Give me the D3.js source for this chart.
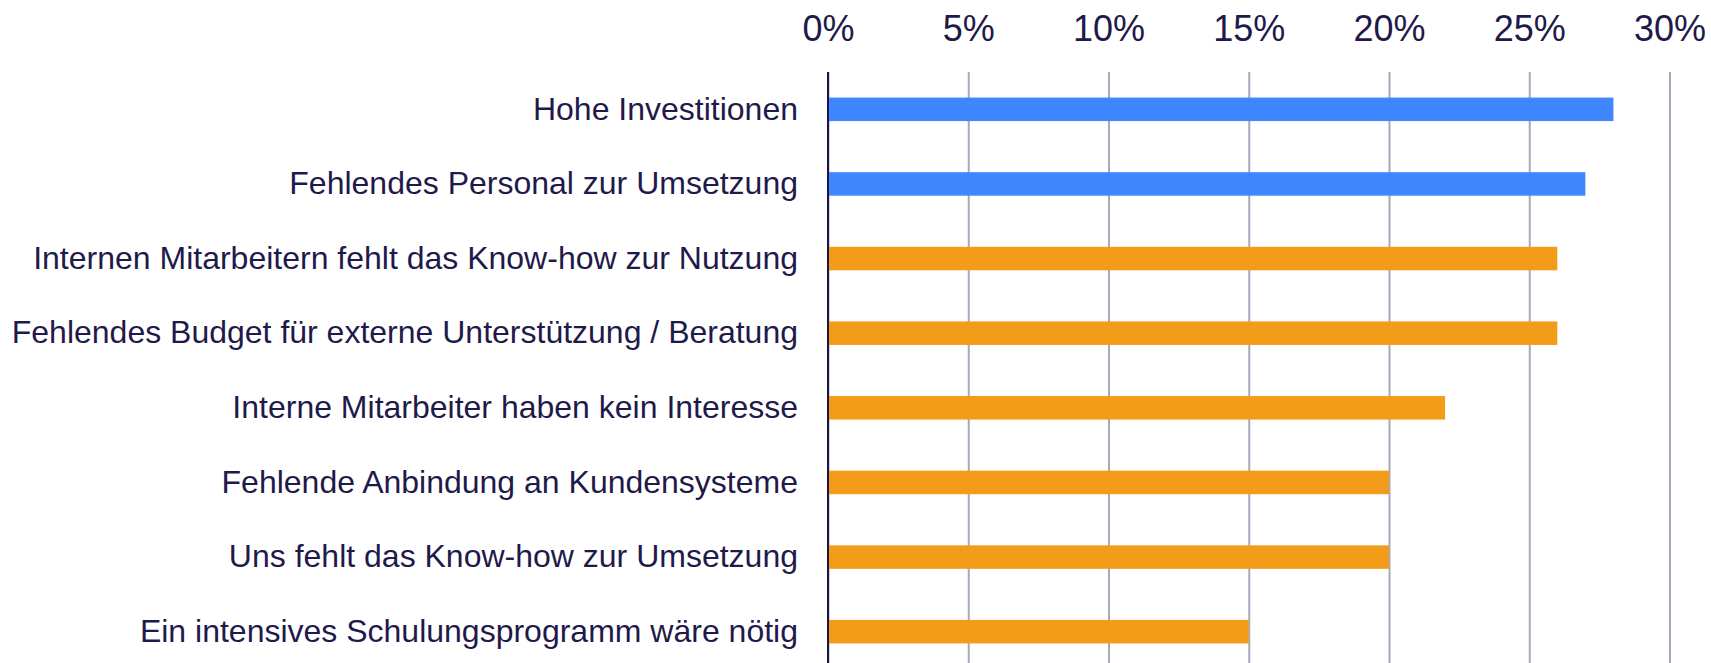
<!DOCTYPE html>
<html>
<head>
<meta charset="utf-8">
<script src="https://cdn.jsdelivr.net/npm/d3@7"></script>
<style>
  body { margin: 0; background: #ffffff; }
  svg { display: block; font-family: "Liberation Sans", Arial, sans-serif; }
</style>
</head>
<body>
<div id="chart"></div>
<script>
// Data
const categories = [
  "Hohe Investitionen",
  "Fehlendes Personal zur Umsetzung",
  "Internen Mitarbeitern fehlt das Know-how zur Nutzung",
  "Fehlendes Budget für externe Unterstützung / Beratung",
  "Interne Mitarbeiter haben kein Interesse",
  "Fehlende Anbindung an Kundensysteme",
  "Uns fehlt das Know-how zur Umsetzung",
  "Ein intensives Schulungsprogramm wäre nötig"
];
const values = [0.28, 0.27, 0.26, 0.26, 0.22, 0.20, 0.20, 0.15];
const groups = ["top", "top", "rest", "rest", "rest", "rest", "rest", "rest"];
const tickValues = [0, 0.05, 0.10, 0.15, 0.20, 0.25, 0.30];

function createBarChart(elementId) {
  const width = 1711;
  const height = 663;
  const left = 828;
  const right = 1669.5;
  const top = 72;
  const bottom = 669;
  const textColor = "#1f1a4a";

  const svg = d3.select(elementId)
    .append("svg")
    .attr("width", width)
    .attr("height", height);

  const x = d3.scaleLinear().domain([0, 0.30]).range([left, right]);
  const y = d3.scaleBand()
    .domain(categories)
    .range([top, bottom])
    .paddingInner(0.685)
    .paddingOuter(0.3425);
  const color = d3.scaleOrdinal(["top", "rest"], ["#4086ff", "#f39c19"]);

  // Gridlines
  const grid = svg.append("g")
    .attr("transform", `translate(0,${top})`)
    .call(d3.axisBottom(x).tickValues(tickValues).tickSize(bottom - top).tickFormat(""));
  grid.select(".domain").remove();
  grid.selectAll("line").attr("stroke", "#aaa7ba").attr("stroke-width", 2);

  // Bars
  svg.selectAll("rect.bar")
    .data(categories)
    .join("rect")
    .attr("class", "bar")
    .attr("x", x(0))
    .attr("y", d => y(d))
    .attr("width", (d, i) => x(values[i]) - x(0))
    .attr("height", y.bandwidth())
    .attr("fill", (d, i) => color(groups[i]));

  // Zero axis line
  svg.append("line")
    .attr("x1", x(0)).attr("x2", x(0))
    .attr("y1", top).attr("y2", height)
    .attr("stroke", "#1b1446")
    .attr("stroke-width", 2);

  // Top tick labels
  const xAxis = svg.append("g")
    .attr("transform", `translate(0,${top})`)
    .call(d3.axisTop(x).tickValues(tickValues).tickSize(0).tickPadding(31).tickFormat(d3.format(".0%")));
  xAxis.select(".domain").remove();
  xAxis.selectAll("text")
    .attr("font-size", 36)
    .attr("font-family", "Liberation Sans, Arial, sans-serif")
    .attr("fill", textColor);

  // Category labels
  const yAxis = svg.append("g")
    .attr("transform", `translate(${x(0)},0)`)
    .call(d3.axisLeft(y).tickSize(0).tickPadding(30));
  yAxis.select(".domain").remove();
  yAxis.selectAll("text")
    .attr("font-size", 32)
    .attr("font-family", "Liberation Sans, Arial, sans-serif")
    .attr("fill", textColor);
}

createBarChart("#chart");
</script>
</body>
</html>
